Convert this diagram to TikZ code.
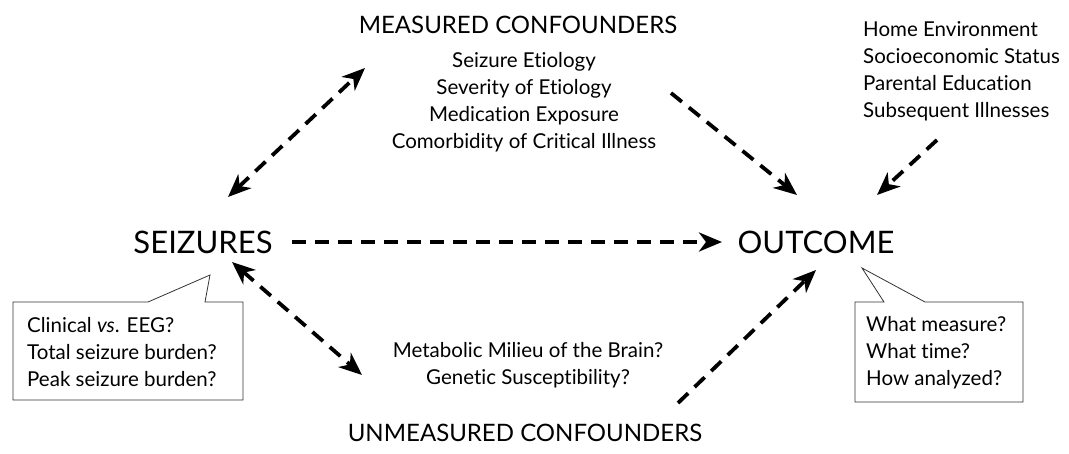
\documentclass[tikz,border=0pt]{standalone}
\usepackage{fontspec}
\setmainfont{Lato}[Ligatures=NoCommon]
\usetikzlibrary{arrows.meta}
\begin{document}
\begin{tikzpicture}[x=1pt,y=-1pt,
  big/.style={font=\fontsize{31pt}{36pt}\selectfont, inner sep=0pt},
  head/.style={font=\fontsize{24pt}{28pt}\selectfont, inner sep=0pt},
  small/.style={font=\fontsize{20.5pt}{27pt}\selectfont, inner sep=0pt},
  dasharrow/.style={line width=3.8pt, dash pattern=on 14pt off 9pt,
    -{Stealth[length=23pt,width=19pt,inset=7pt]}},
  dbarrow/.style={line width=3.8pt, dash pattern=on 14pt off 9pt,
    {Stealth[length=23pt,width=19pt,inset=7pt]}-{Stealth[length=23pt,width=19pt,inset=7pt]}},
  bubble/.style={draw=black!80, line width=0.8pt, line join=miter}
]
\useasboundingbox (0,0) rectangle (1069,453);

% main nodes
\node[big] (seiz) at (203,242) {SEIZURES};
\node[big] (outc) at (816,242) {OUTCOME};
\node[head] (meas) at (518,25) {MEASURED CONFOUNDERS};
\node[small, align=center] (measlist) at (524,102) {Seizure Etiology\\Severity of Etiology\\Medication Exposure\\Comorbidity of Critical Illness};
\node[small, align=left, anchor=west] (home) at (863,71) {Home Environment\\Socioeconomic Status\\Parental Education\\Subsequent Illnesses};
\node[small, align=center] (unmlist) at (528,365) {Metabolic Milieu of the Brain?\\Genetic Susceptibility?};
\node[head] (unm) at (525,433) {UNMEASURED CONFOUNDERS};

% bubbles
\draw[bubble] (13,302) -- (148,302) -- (210,275) -- (205,302) -- (243,302) -- (243,400) -- (13,400) -- cycle;
\node[small, align=left, anchor=west] (lq) at (27,352) {Clinical \textit{vs}. EEG?\\Total seizure burden?\\Peak seizure burden?};
\draw[bubble] (855,302) -- (884,302) -- (862,268) -- (925,302) -- (1023,302) -- (1023,402) -- (855,402) -- cycle;
\node[small, align=left, anchor=west] (rq) at (866,353) {What measure?\\What time?\\How analyzed?};

% arrow end coordinates
\coordinate (h1) at (292,242);
\coordinate (h2) at (722,242);
\coordinate (ul1) at (228,197);
\coordinate (ul2) at (365,68);
\coordinate (mo1) at (671,93);
\coordinate (mo2) at (797,195);
\coordinate (ho1) at (937,140);
\coordinate (ho2) at (877,195);
\coordinate (ll1) at (232,262);
\coordinate (ll2) at (362,375);
\coordinate (lr1) at (678,403);
\coordinate (lr2) at (816,270);

\draw[dasharrow] (h1) -- (h2);
\draw[dbarrow] (ul1) -- (ul2);
\draw[dasharrow] (mo1) -- (mo2);
\draw[dasharrow] (ho1) -- (ho2);
\draw[dbarrow] (ll1) -- (ll2);
\draw[dasharrow] (lr1) -- (lr2);
\end{tikzpicture}
\end{document}
